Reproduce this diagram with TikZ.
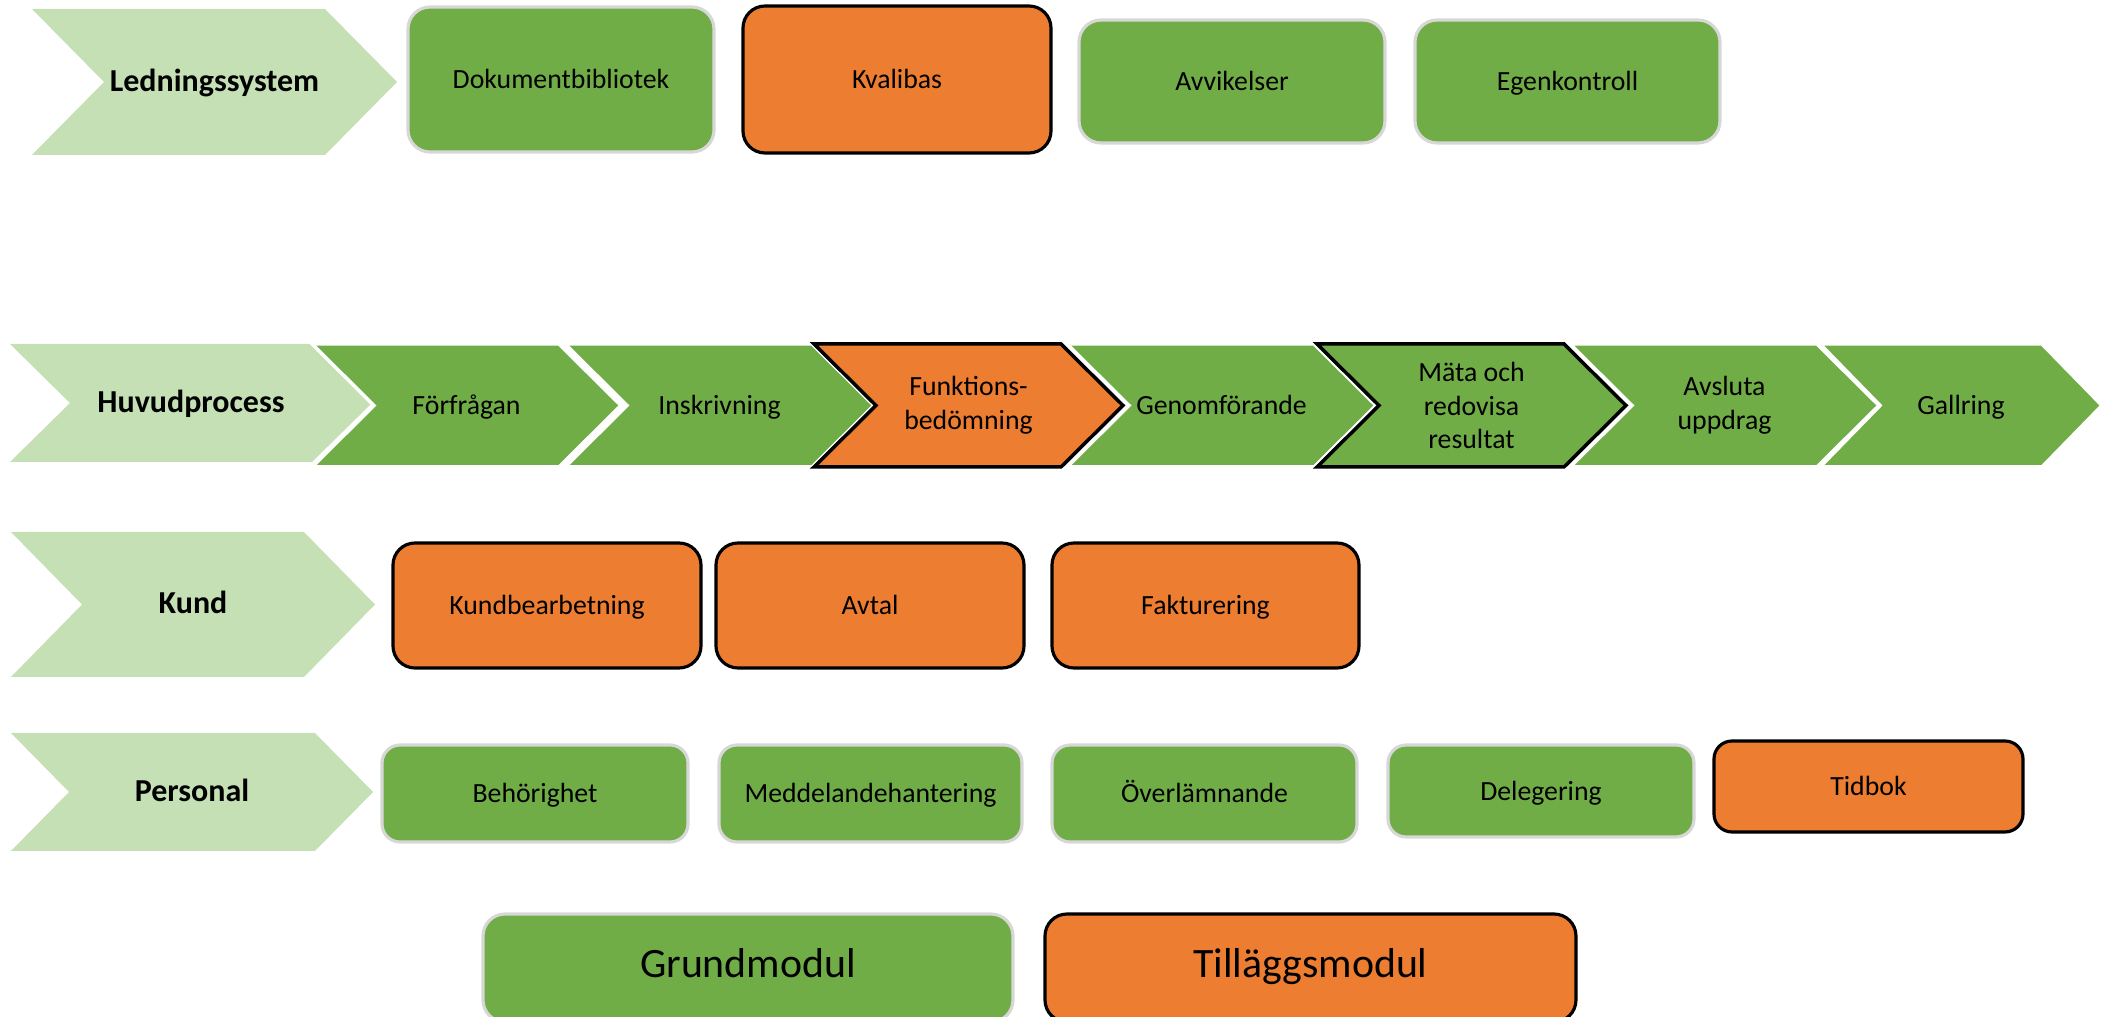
\documentclass[tikz,border=0pt]{standalone}
\usepackage{fontspec}
\setmainfont{Carlito}
\usetikzlibrary{positioning}
\definecolor{GrundGron}{RGB}{112,173,71}
\definecolor{TillaggOrange}{RGB}{237,125,49}
\definecolor{LjusGron}{RGB}{197,224,180}
\definecolor{GraKant}{RGB}{215,215,215}
\newcommand{\boxfont}{\fontsize{7.9}{9.6}\selectfont}
\tikzset{
  enrad/.style={text height=1.55ex,text depth=0.45ex},
  grundbox/.style={draw=GraKant,line width=0.9pt,rounded corners=2.2mm,
    fill=GrundGron,align=center,font=\boxfont,inner sep=0pt,enrad},
  tillaggbox/.style={draw=black,line width=0.9pt,rounded corners=2.2mm,
    fill=TillaggOrange,align=center,font=\boxfont,inner sep=0pt,enrad},
  rubrikpil/.style={fill=LjusGron},
  grundpil/.style={fill=GrundGron,draw=white,line width=1pt},
  tillaggpil/.style={fill=TillaggOrange,draw=black,line width=1pt},
  piltext/.style={align=center,font=\boxfont,inner sep=0pt},
  rubriktext/.style={align=center,font=\fontsize{9.1}{11}\selectfont\bfseries,inner sep=0pt,enrad},
}
% chevron: name, style, left x, top y, width, height, depth, text style, text
\newcommand{\pil}[9]{%
  \path[#2] (#3,#4) -- ++({#5-#7},0) -- ++(#7,{-#6/2}) -- ++(-#7,{-#6/2})
    -- ++({-(#5-#7)},0) -- ++(#7,{#6/2}) -- cycle;
  \node[#8] (#1) at ({#3+#5/2},{#4-#6/2}) {#9};}

\begin{document}
\begin{tikzpicture}
  \useasboundingbox (0,0) rectangle (21.09,-10.17);
  \clip (0,0) rectangle (21.09,-10.17);

  % Ledningssystem
  \pil{ledning}{rubrikpil}{0.32}{-0.09}{3.65}{1.46}{0.72}{rubriktext}{Ledningssystem}
  \node[grundbox,minimum width=3.06cm,minimum height=1.45cm] (dok) at (5.61,-0.795) {Dokumentbibliotek};
  \node[tillaggbox,minimum width=3.08cm,minimum height=1.47cm] (kvalibas) at (8.97,-0.795) {Kvalibas};
  \node[grundbox,minimum width=3.06cm,minimum height=1.23cm] (avvik) at (12.32,-0.815) {Avvikelser};
  \node[grundbox,minimum width=3.05cm,minimum height=1.23cm] (egen) at (15.675,-0.815) {Egenkontroll};

  % Huvudprocess
  \pil{huvud}{rubrikpil}{0.10}{-3.44}{3.62}{1.18}{0.60}{rubriktext}{Huvudprocess}
  \pil{forfragan}{grundpil}{3.12}{-3.44}{3.09}{1.23}{0.62}{piltext,enrad}{Förfrågan}
  \pil{inskriv}{grundpil}{5.65}{-3.44}{3.09}{1.23}{0.62}{piltext,enrad}{Inskrivning}
  \pil{genomf}{grundpil}{10.67}{-3.44}{3.09}{1.23}{0.62}{piltext,enrad}{Genomförande}
  \pil{avsluta}{grundpil}{15.70}{-3.44}{3.09}{1.23}{0.62}{piltext}{Avsluta\\uppdrag}
  \pil{gallring}{grundpil}{18.20}{-3.44}{2.82}{1.23}{0.60}{piltext,enrad}{Gallring}
  \pil{funktion}{tillaggpil}{8.14}{-3.44}{3.09}{1.23}{0.62}{piltext}{Funktions-\\bedömning}
  \pil{mata}{grundpil,draw=black}{13.17}{-3.44}{3.09}{1.23}{0.62}{piltext}{Mäta och\\redovisa\\resultat}

  % Kund
  \pil{kund}{rubrikpil}{0.11}{-5.32}{3.64}{1.45}{0.71}{rubriktext}{Kund}
  \node[tillaggbox,minimum width=3.08cm,minimum height=1.25cm] (kundbearb) at (5.47,-6.055) {Kundbearbetning};
  \node[tillaggbox,minimum width=3.08cm,minimum height=1.25cm] (avtal) at (8.70,-6.055) {Avtal};
  \node[tillaggbox,minimum width=3.07cm,minimum height=1.25cm] (faktura) at (12.055,-6.055) {Fakturering};

  % Personal
  \pil{personal}{rubrikpil}{0.11}{-7.33}{3.62}{1.18}{0.58}{rubriktext}{Personal}
  \node[grundbox,rounded corners=1.8mm,minimum width=3.06cm,minimum height=0.97cm] (behorig) at (5.35,-7.935) {Behörighet};
  \node[grundbox,rounded corners=1.8mm,minimum width=3.03cm,minimum height=0.97cm] (meddel) at (8.705,-7.935) {Meddelandehantering};
  \node[grundbox,rounded corners=1.8mm,minimum width=3.05cm,minimum height=0.97cm] (overlam) at (12.045,-7.935) {Överlämnande};
  \node[grundbox,rounded corners=1.8mm,minimum width=3.06cm,minimum height=0.92cm] (deleg) at (15.41,-7.91) {Delegering};
  \node[tillaggbox,rounded corners=1.8mm,minimum width=3.09cm,minimum height=0.91cm] (tidbok) at (18.685,-7.865) {Tidbok};

  % teckenforklaring
  \node[grundbox,font=\fontsize{11.9}{14}\selectfont,minimum width=5.30cm,minimum height=1.08cm] (grund) at (7.48,-9.68) {Grundmodul};
  \node[tillaggbox,font=\fontsize{11.9}{14}\selectfont,minimum width=5.31cm,minimum height=1.08cm] (tillagg) at (13.105,-9.68) {Tilläggsmodul};
\end{tikzpicture}
\end{document}
